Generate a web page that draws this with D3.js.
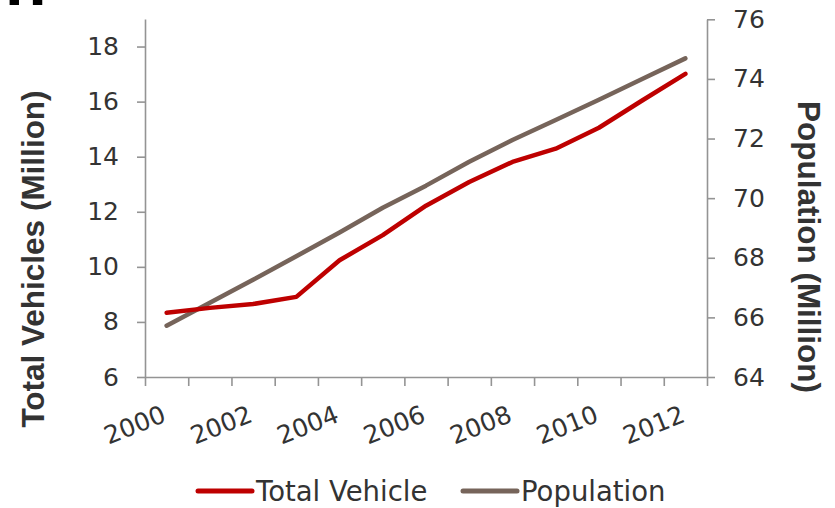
<!DOCTYPE html>
<html>
<head>
<meta charset="utf-8">
<script src="https://cdn.jsdelivr.net/npm/d3@7"></script>
<style>
  body { margin: 0; background: #fff; }
  svg { display: block; }
</style>
</head>
<body>
<div id="chart"></div>
<script>
// data
const years = [2000, 2001, 2002, 2003, 2004, 2005, 2006, 2007, 2008, 2009, 2010, 2011, 2012];
const totalVehicle = [8.33, 8.51, 8.65, 8.91, 10.24, 11.15, 12.22, 13.08, 13.81, 14.29, 15.05, 16.04, 17.01];
const population = [65.72, 66.49, 67.26, 68.05, 68.85, 69.68, 70.42, 71.22, 71.95, 72.62, 73.3, 74.0, 74.69];
const leftTicks = [6, 8, 10, 12, 14, 16, 18];
const rightTicks = [64, 66, 68, 70, 72, 74, 76];
const yearLabels = [2000, 2002, 2004, 2006, 2008, 2010, 2012];
const seriesNames = ["Total Vehicle", "Population"];

const WIDTH = 835, HEIGHT = 508;
const RED = "#BE0000", BROWN = "#76645A";
const AXIS = "#949494", TEXT = "#333333";
const TICK_FONT = "DejaVu Sans, Verdana, sans-serif";
const TITLE_FONT = "Liberation Sans, Arial, sans-serif";

const svg = d3.select("#chart").append("svg")
    .attr("width", WIDTH)
    .attr("height", HEIGHT);

// cut-off panel letter at the very top (cropped in the original too)
svg.append("text")
    .attr("x", 5)
    .attr("y", 5)
    .style("font-family", TICK_FONT)
    .style("font-weight", "bold")
    .style("font-size", "50px")
    .attr("fill", "#000")
    .text("H");

const plot = { left: 145, right: 707, top: 19, bottom: 377 };

const x = d3.scaleBand().domain(years).range([plot.left, plot.right]).padding(0);
const xEdges = d3.scaleLinear().domain([0, years.length]).range([plot.left, plot.right]);
const yLeft = d3.scaleLinear().domain([6, 19]).range([plot.bottom, plot.top]);
const yRight = d3.scaleLinear().domain([64, 76]).range([plot.bottom, plot.top + 0.3]);

function styleAxis(g) {
    g.select(".domain").attr("stroke", AXIS).attr("stroke-width", 1.6);
    g.selectAll(".tick line").attr("stroke", AXIS).attr("stroke-width", 1.6);
    g.selectAll(".tick text")
        .attr("fill", TEXT)
        .style("font-family", TICK_FONT)
        .style("font-size", "25px");
}

// left axis
svg.append("g")
    .attr("transform", `translate(${plot.left},0)`)
    .call(d3.axisLeft(yLeft).tickValues(leftTicks).tickSize(8).tickSizeOuter(0).tickPadding(18))
    .call(styleAxis);

// right axis
svg.append("g")
    .attr("transform", `translate(${plot.right},0)`)
    .call(d3.axisRight(yRight).tickValues(rightTicks).tickSize(8).tickSizeOuter(0).tickPadding(18))
    .call(styleAxis);

// bottom axis, ticks sit on the category edges
svg.append("g")
    .attr("transform", `translate(0,${plot.bottom})`)
    .call(d3.axisBottom(xEdges).tickValues(d3.range(years.length + 1)).tickFormat("").tickSize(9).tickSizeOuter(0))
    .call(styleAxis);

svg.append("g")
    .selectAll("text")
    .data(yearLabels)
    .enter()
    .append("text")
    .attr("transform", d => `translate(${x(d) + x.bandwidth() / 2 + 1},421) rotate(-22)`)
    .attr("text-anchor", "end")
    .attr("fill", TEXT)
    .style("font-family", TICK_FONT)
    .style("font-size", "25px")
    .text(d => d);

// axis titles
svg.append("text")
    .attr("transform", "translate(44,259) rotate(-90)")
    .attr("text-anchor", "middle")
    .attr("fill", TEXT)
    .style("font-family", TITLE_FONT)
    .style("font-weight", "bold")
    .style("font-size", "31.5px")
    .text("Total Vehicles (Million)");

svg.append("text")
    .attr("transform", "translate(798,247) rotate(90)")
    .attr("text-anchor", "middle")
    .attr("fill", TEXT)
    .style("font-family", TITLE_FONT)
    .style("font-weight", "bold")
    .style("font-size", "31.5px")
    .text("Population (Million)");

// lines
const cx = d => x(d) + x.bandwidth() / 2;

const vehicleLine = d3.line()
    .x((d, i) => cx(years[i]))
    .y(d => yLeft(d));

const popLine = d3.line()
    .x((d, i) => cx(years[i]))
    .y(d => yRight(d));

svg.append("path")
    .datum(population)
    .attr("d", popLine)
    .attr("fill", "none")
    .attr("stroke", BROWN)
    .attr("stroke-width", 4.5)
    .attr("stroke-linecap", "round")
    .attr("stroke-linejoin", "round");

svg.append("path")
    .datum(totalVehicle)
    .attr("d", vehicleLine)
    .attr("fill", "none")
    .attr("stroke", RED)
    .attr("stroke-width", 4.5)
    .attr("stroke-linecap", "round")
    .attr("stroke-linejoin", "round");

// legend
const legendX = [198, 463];
const legend = svg.append("g")
    .selectAll("g")
    .data(seriesNames)
    .enter()
    .append("g")
    .attr("transform", (d, i) => `translate(${legendX[i]},491)`);

legend.append("line")
    .attr("x1", 0)
    .attr("x2", 54)
    .attr("stroke", (d, i) => [RED, BROWN][i])
    .attr("stroke-width", 5)
    .attr("stroke-linecap", "round");

legend.append("text")
    .attr("x", 58)
    .attr("y", 9.5)
    .attr("fill", TEXT)
    .style("font-family", TICK_FONT)
    .style("font-size", "27.5px")
    .text(d => d);
</script>
</body>
</html>
